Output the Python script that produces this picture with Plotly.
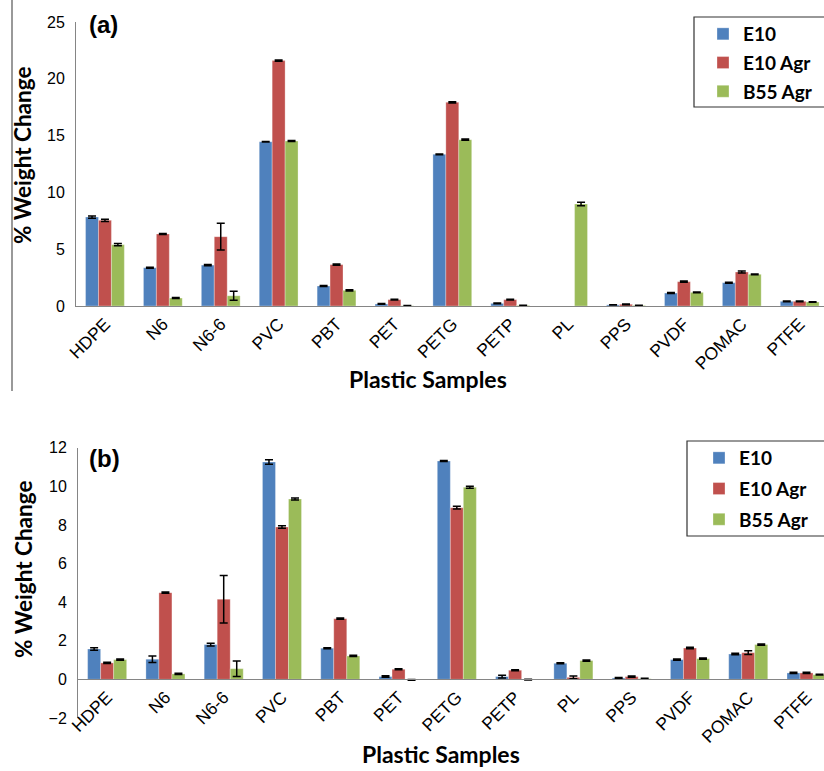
import plotly.graph_objects as go

categories = ["HDPE", "N6", "N6-6", "PVC", "PBT", "PET", "PETG", "PETP", "PL", "PPS", "PVDF", "POMAC", "PTFE"]
series_names = ["E10", "E10 Agr", "B55 Agr"]

# Panel (a)  (None = no bar visible in the reference)
a_e10 = [7.83, 3.37, 3.60, 14.46, 1.76, 0.18, 13.35, 0.23, None, 0.10, 1.14, 2.05, 0.41]
a_e10_agr = [7.54, 6.34, 6.10, 21.60, 3.64, 0.56, 17.93, 0.56, None, 0.15, 2.14, 2.99, 0.41]
a_b55_agr = [5.40, 0.70, 0.90, 14.52, 1.38, 0.02, 14.64, 0.05, 8.98, 0.05, 1.20, 2.79, 0.35]
a_e10_err = [0.10, 0.05, 0.05, 0.03, 0.05, 0.03, 0.03, 0.03, 0.0, 0.02, 0.05, 0.05, 0.03]
a_e10_agr_err = [0.10, 0.05, 1.18, 0.05, 0.05, 0.03, 0.05, 0.03, 0.0, 0.03, 0.05, 0.08, 0.03]
a_b55_agr_err = [0.10, 0.05, 0.40, 0.05, 0.05, 0.02, 0.05, 0.02, 0.15, 0.02, 0.03, 0.03, 0.03]

# Panel (b)
b_e10 = [1.57, 1.04, 1.80, 11.26, 1.61, 0.14, 11.31, 0.14, 0.83, 0.07, 1.02, 1.31, 0.33]
b_e10_agr = [0.85, 4.49, 4.15, 7.89, 3.14, 0.52, 8.89, 0.47, 0.10, 0.14, 1.62, 1.38, 0.33]
b_b55_agr = [1.02, 0.28, 0.55, 9.34, 1.21, -0.03, 9.95, -0.02, 0.97, 0.03, 1.07, 1.80, 0.24]
b_e10_err = [0.07, 0.17, 0.07, 0.12, 0.03, 0.04, 0.03, 0.07, 0.03, 0.02, 0.03, 0.04, 0.03]
b_e10_agr_err = [0.03, 0.03, 1.23, 0.07, 0.03, 0.03, 0.07, 0.03, 0.07, 0.03, 0.04, 0.10, 0.03]
b_b55_agr_err = [0.03, 0.03, 0.40, 0.05, 0.03, 0.02, 0.05, 0.02, 0.03, 0.02, 0.03, 0.03, 0.02]

y_ticks_a = [0, 5, 10, 15, 20, 25]
y_ticks_b = [-2, 0, 2, 4, 6, 8, 10, 12]

colors = ["#4F81BD", "#C0504D", "#9BBB59"]

W, H = 824, 771


def px_x(x):
    return x / W


def px_y(y):
    return 1 - y / H


YTICK_FONT = dict(family="Liberation Sans, Arial", size=16, color="#000000")
XTICK_FONT = dict(family="Liberation Sans, Arial", size=17.5, color="#000000")
XTITLE_FONT = dict(family="Lato, Open Sans", size=23, color="#000000", weight="bold")
YTITLE_FONT = dict(family="Lato, Open Sans", size=22.5, color="#000000", weight="bold")
LEG_FONT = dict(family="Lato, Open Sans", size=19, color="#000000", weight="bold")
AXIS_COLOR = "#858585"

fig = go.Figure()

a_vals = [a_e10, a_e10_agr, a_b55_agr]
a_errs = [a_e10_err, a_e10_agr_err, a_b55_agr_err]
b_vals = [b_e10, b_e10_agr, b_b55_agr]
b_errs = [b_e10_err, b_e10_agr_err, b_b55_agr_err]

for i, name in enumerate(series_names):
    fig.add_trace(go.Bar(
        x=categories, y=a_vals[i], name=name, xaxis="x", yaxis="y",
        marker=dict(color=colors[i], line=dict(color="rgba(255,255,255,0.5)", width=0.6)),
        error_y=dict(type="data", array=a_errs[i], visible=True, color="#000000", thickness=1.5, width=4),
        legend="legend", legendgroup="a" + str(i),
    ))
for i, name in enumerate(series_names):
    fig.add_trace(go.Bar(
        x=categories, y=b_vals[i], name=name, xaxis="x2", yaxis="y2",
        marker=dict(color=colors[i], line=dict(color="rgba(255,255,255,0.5)", width=0.6)),
        error_y=dict(type="data", array=b_errs[i], visible=True, color="#000000", thickness=1.5, width=4),
        legend="legend2", legendgroup="b" + str(i),
    ))

# geometry (pixels)
a_left, a_top, a_bottom = 76, 22, 306
b_left, b_top, b_bottom = 78, 447.7, 717.9
a_range = [-0.5, 12.42]
b_range = [-0.5, 12.3]
yb_range = [-2, 12]

yb_dom = [px_y(b_bottom), px_y(b_top)]
zero_pos = yb_dom[0] + (0 - yb_range[0]) / (yb_range[1] - yb_range[0]) * (yb_dom[1] - yb_dom[0])

fig.update_layout(
    width=W, height=H,
    margin=dict(l=0, r=0, t=0, b=0),
    paper_bgcolor="white", plot_bgcolor="white",
    barmode="group", bargap=0.33, bargroupgap=0,
    showlegend=True,
    xaxis=dict(domain=[px_x(a_left), 1], range=a_range, anchor="y", type="category",
               tickangle=-45, tickfont=XTICK_FONT, showline=True, linecolor=AXIS_COLOR, linewidth=1,
               ticks="", showgrid=False, automargin=False, zeroline=False),
    yaxis=dict(domain=[px_y(a_bottom), px_y(a_top)], range=[0, 25], anchor="x",
               tickvals=y_ticks_a, tickfont=YTICK_FONT, showline=True, linecolor=AXIS_COLOR, linewidth=1,
               ticks="", ticklabelstandoff=7, showgrid=False, automargin=False, zeroline=False),
    xaxis2=dict(domain=[px_x(b_left), 1], range=b_range, anchor="free", position=zero_pos, type="category",
                tickangle=-45, tickfont=XTICK_FONT, showline=True, linecolor=AXIS_COLOR, linewidth=1,
                ticks="", showgrid=False, automargin=False, zeroline=False),
    yaxis2=dict(domain=yb_dom, range=yb_range, anchor="x2",
                tickvals=y_ticks_b, tickfont=YTICK_FONT, showline=True, linecolor=AXIS_COLOR, linewidth=1,
                ticks="", ticklabelstandoff=7, showgrid=False, automargin=False, zeroline=False),
    legend=dict(x=px_x(703), y=px_y(15), xanchor="left", yanchor="top", font=LEG_FONT,
                bgcolor="rgba(0,0,0,0)", borderwidth=0, tracegroupgap=1),
    legend2=dict(x=px_x(699), y=px_y(439), xanchor="left", yanchor="top", font=LEG_FONT,
                 bgcolor="rgba(0,0,0,0)", borderwidth=0, tracegroupgap=3),
)

# legend frames and left frame line
fig.add_shape(type="rect", xref="paper", yref="paper", x0=px_x(694), x1=px_x(826), y0=px_y(107), y1=px_y(17),
              line=dict(color="#333333", width=1.2))
fig.add_shape(type="rect", xref="paper", yref="paper", x0=px_x(687), x1=px_x(826), y0=px_y(536), y1=px_y(441),
              line=dict(color="#333333", width=1.2))
fig.add_shape(type="line", xref="paper", yref="paper", x0=px_x(12), x1=px_x(12), y0=px_y(391), y1=1,
              line=dict(color="#555555", width=1.2))

annotations = [
    dict(text="(a)", x=px_x(87), y=px_y(24), xanchor="left", yanchor="middle",
         font=dict(family="Liberation Sans, Arial", size=24, color="#000", weight="bold")),
    dict(text="(b)", x=px_x(87), y=px_y(458), xanchor="left", yanchor="middle",
         font=dict(family="Liberation Sans, Arial", size=24, color="#000", weight="bold")),
    dict(text="Plastic Samples", x=px_x(428), y=px_y(379), xanchor="center", yanchor="middle", font=XTITLE_FONT),
    dict(text="Plastic Samples", x=px_x(441), y=px_y(754), xanchor="center", yanchor="middle", font=XTITLE_FONT),
    dict(text="% Weight Change", x=px_x(23), y=px_y(156), xanchor="center", yanchor="middle",
         textangle=-90, font=YTITLE_FONT),
    dict(text="% Weight Change", x=px_x(23), y=px_y(570), xanchor="center", yanchor="middle",
         textangle=-90, font=YTITLE_FONT),
]
for a in annotations:
    fig.add_annotation(xref="paper", yref="paper", showarrow=False, **a)

fig.write_html("out.html")
